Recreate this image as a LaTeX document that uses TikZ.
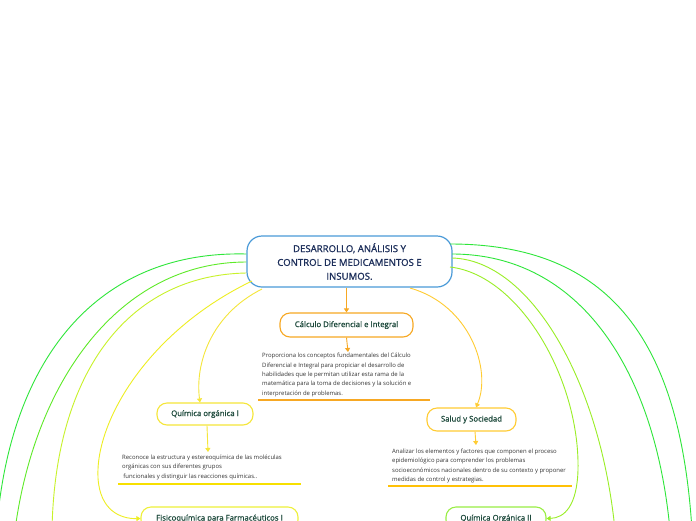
\documentclass[tikz,border=0pt]{standalone}
\usepackage{fontspec}
\setmainfont{Open Sans}
\newfontfamily\labelfont[FakeBold=0.9]{Open Sans}
\newfontfamily\rootfont[FakeBold=1.2]{Open Sans}
\usetikzlibrary{arrows.meta}
\definecolor{cblue}{HTML}{4A9AD8}
\definecolor{cnavy}{HTML}{1C2E5A}
\definecolor{ctxt}{HTML}{1E4A3C}
\definecolor{cpar}{HTML}{333333}
\definecolor{corange}{HTML}{F7A823}
\definecolor{cyellow}{HTML}{F5E63A}
\definecolor{cyline}{HTML}{F7E000}
\definecolor{cgold}{HTML}{FFCC33}
\definecolor{cgoldline}{HTML}{FFC107}
\definecolor{cfisico}{HTML}{EEF03A}
\definecolor{cgreenA}{HTML}{2EE63A}
\definecolor{cgreenB}{HTML}{5EEA28}
\definecolor{climeL}{HTML}{C8F22A}
\definecolor{climeR}{HTML}{9AEE26}
\definecolor{cyelcurve}{HTML}{EEEE22}
\definecolor{cqo2}{HTML}{99EE44}
\tikzset{
  topic/.style={draw, line width=1.1pt, rounded corners=10pt, inner sep=0pt, text=ctxt, font=\labelfont\fontsize{7.8}{9}\selectfont},
  para/.style={anchor=north west, align=left, inner sep=0pt, text=cpar, font=\fontsize{5.95}{9.3}\selectfont},
  conn/.style={line width=0.9pt, -{Triangle[length=4pt,width=5pt]}},
  link/.style={line width=0.9pt},
  uline/.style={line width=1.6pt},
}
\begin{document}
\begin{tikzpicture}[x=1pt,y=-1pt]
\clip (0,0) rectangle (696,520);
\fill[white] (0,0) rectangle (696,520);

% central node
\node[draw=cblue, line width=1.2pt, rounded corners=15pt, minimum width=205pt, minimum height=51pt, inner sep=0pt,
      align=center, text=cnavy, font=\rootfont\fontsize{9.6}{13.8}\selectfont] (c) at (349.5,261.5)
  {DESARROLLO, ANÁLISIS Y\\CONTROL DE MEDICAMENTOS E\\INSUMOS.};

% topic nodes
\node[topic, draw=corange, minimum width=133pt, minimum height=24pt] (calc) at (346.5,325) {Cálculo Diferencial e Integral};
\node[topic, draw=cyellow, minimum width=96pt, minimum height=22pt] (qo1) at (205,414) {Química orgánica I};
\node[topic, draw=cgold, minimum width=89pt, minimum height=23pt] (salud) at (471.5,419.5) {Salud y Sociedad};
\node[topic, draw=cfisico, minimum width=157pt, minimum height=23pt] (fis) at (219.5,518.5) {Fisicoquímica para Farmacéuticos I};
\node[topic, draw=cqo2, minimum width=100pt, minimum height=23pt] (qo2) at (496,518.5) {Química Orgánica II};

% paragraphs
\node[para] (ctext) at (262,353.2) {Proporciona los conceptos fundamentales del Cálculo\\Diferencial e Integral para propiciar el desarrollo de\\habilidades que le permitan utilizar esta rama de la\\matemática para la toma de decisiones y la solución e\\interpretación de problemas.};
\node[para] (qtext) at (122,454.8) {Reconoce la estructura y estereoquímica de las moléculas\\orgánicas con sus diferentes grupos\\\hspace{1.2pt}funcionales y distinguir las reacciones químicas..};
\node[para] (stext) at (392,448.8) {Analizar los elementos y factores que componen el proceso\\epidemiológico para comprender los problemas\\socioeconómicos nacionales dentro de su contexto y proponer\\medidas de control y estrategias.};

% underlines
\draw[uline, corange] (258,400) -- (430,400);
\draw[uline, cyline] (118,484) -- (301,484);
\draw[uline, cgoldline] (388,486) -- (572,486);

% free ends of links leaving the picture
\coordinate (l1) at (-5,560);
\coordinate (l2) at (15,530);
\coordinate (l3) at (52,530);
\coordinate (r1) at (692,530);
\coordinate (r2) at (670,530);
\coordinate (r3) at (615,530);

% straight connectors
\draw[conn, corange] (calc.north |- c.south) -- (calc.north);
\draw[conn, corange] (calc.south) -- (348,352);
\draw[conn, cyellow] (qo1.south -| 207,0) -- (208,452);
\draw[conn, cgold] (salud.south -| 475,0) -- (476,445);

% curved connectors
\draw[conn, cyellow] (262,289) .. controls (210,315) and (195,365) .. (qo1.north -| 200,0);
\draw[conn, cgold] (410,288) .. controls (470,305) and (492,370) .. (salud.north -| 476,0);
\draw[conn, cyelcurve] (252,281) .. controls (150,330) and (95,420) .. (98,478) .. controls (100,510) and (120,519) .. (fis.west);
\draw[conn, climeR] (450,267) .. controls (520,275) and (580,380) .. (578,470) .. controls (577,505) and (565,518) .. (qo2.east);

% links leaving the picture
\draw[link, cgreenA] (c.west |- 0,254) .. controls (90,250) and (0,370) .. (l1);
\draw[link, cgreenB] (c.west |- 0,262) .. controls (120,262) and (35,380) .. (l2);
\draw[link, climeL] (c.west |- 0,273) .. controls (130,275) and (55,370) .. (l3);
\draw[link, cgreenA] (450,244) .. controls (610,244) and (680,340) .. (r1);
\draw[link, cgreenA] (452,254) .. controls (580,254) and (655,370) .. (r2);
\draw[link, climeR] (452,258) .. controls (530,260) and (600,380) .. (r3);
\end{tikzpicture}
\end{document}
